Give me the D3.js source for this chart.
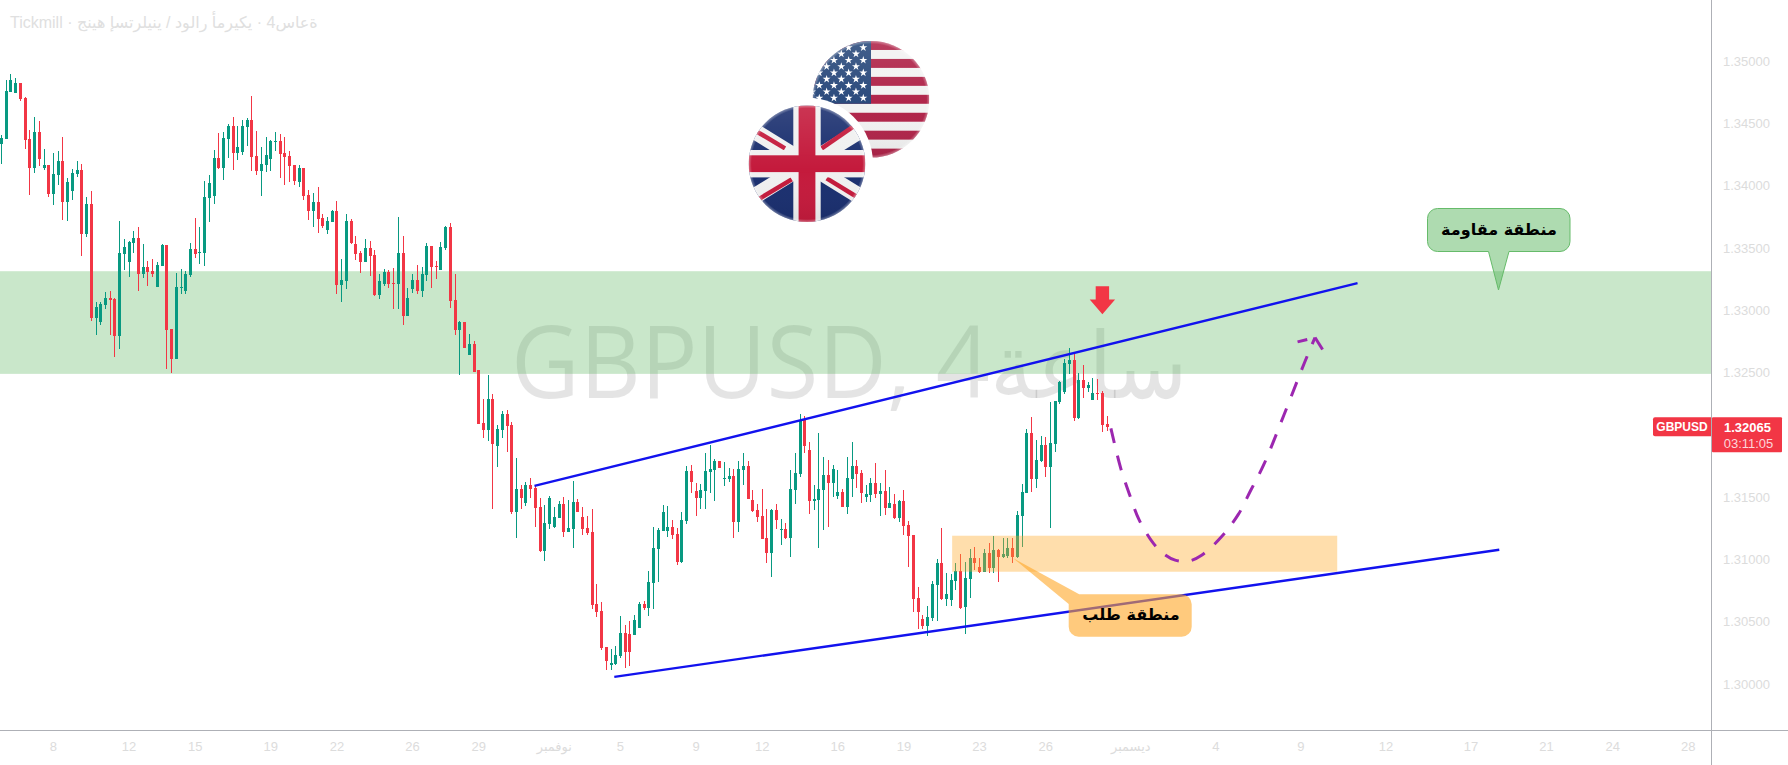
<!DOCTYPE html>
<html lang="ar">
<head>
<meta charset="utf-8">
<title>GBPUSD</title>
<script src="https://cdnjs.cloudflare.com/ajax/libs/d3/7.8.5/d3.min.js"></script>
<style>
  html, body { margin: 0; padding: 0; background: #fff; overflow: hidden; }
  svg { display: block; }
</style>
</head>
<body>
<div id="chart"></div>
<script>
// Candles, prices written in points (1 point = 0.00001)
const highs = [
  134405,134846,134899,134867,134822,134710,134445,134549,134517,134292,
  134164,134260,134276,134389,134060,134132,134196,134172,133907,133955,
  133064,133064,133145,133153,133097,133714,133570,133554,133634,133666,
  133530,133393,133410,133385,133530,133522,132848,133297,133329,133313,
  133538,133739,133666,134035,134084,134284,134421,134429,134493,134549,
  134477,134525,134541,134718,134437,134308,134389,134364,134429,134413,
  134389,134276,134164,134164,134140,133963,133939,133987,133771,133747,
  133803,133875,133410,133771,133731,133594,133474,133570,133554,133482,
  133289,133329,133321,133337,133747,133594,133177,133289,133361,133345,
  133538,133514,133393,133546,133674,133698,133289,132912,132904,132808,
  132751,132519,132286,132479,132326,132077,132190,132198,132101,131813,
  131596,131620,131652,131588,131492,131435,131508,131419,131467,131500,
  131475,131628,131484,131419,131347,131403,130801,130657,130296,130280,
  130304,130545,130472,130504,130553,130657,130665,130906,131259,131251,
  131435,131427,131315,131251,131379,131748,131756,131612,131604,131853,
  131917,131805,131788,131780,131732,131724,131788,131853,131788,131556,
  131443,131564,131403,131403,131443,131323,131291,131716,131853,132166,
  132150,131941,131596,132013,131821,131796,131756,131716,131564,131821,
  131941,131796,131716,131596,131652,131772,131612,131716,131580,131524,
  131475,131556,131307,131195,130777,130553,130625,130825,131002,131251,
  130890,130882,130970,131042,130978,131082,131098,131010,131082,131130,
  131187,131082,131171,131171,131171,131387,131604,132045,132142,131957,
  131989,131981,132262,132270,132430,132607,132695,132655,132495,132559,
  132422,132455,132446,132350,132150
];
const lows = [
  134172,134375,134750,134742,134677,134292,133923,134100,134156,134124,
  133907,133843,134003,133722,133714,133883,134068,133434,133586,132912,
  132800,132880,133008,132800,132623,132687,133321,133265,133458,133153,
  133257,133193,133265,133185,133353,132527,132495,132607,133129,133129,
  133265,133418,133369,133353,133706,133851,134132,134043,134220,134124,
  134204,134244,134316,134116,134084,133915,134108,134116,134276,134060,
  134003,134027,134003,133987,133883,133722,133666,133618,133658,133610,
  133706,133129,133064,133169,133530,133401,133297,133385,133273,133113,
  133089,133193,133177,133008,133008,132880,132952,133137,133129,133105,
  133233,133177,133249,133321,133482,133016,132800,132479,132695,132639,
  132503,132085,131973,131949,131403,131740,131973,131861,131363,131171,
  131403,131427,131492,131259,131058,130986,131243,131251,131331,131179,
  131219,131090,131379,131195,131195,130601,130537,130272,130111,130111,
  130151,130208,130127,130143,130392,130448,130593,130545,130601,130817,
  131227,131179,131163,130954,130970,131283,131532,131347,131403,131403,
  131532,131467,131732,131588,131620,131171,131219,131596,131484,131379,
  131299,131163,130970,130858,131243,131114,131163,131018,131443,131660,
  131853,131363,131395,131090,131235,131259,131500,131484,131419,131363,
  131500,131572,131451,131459,131459,131492,131347,131355,131411,131323,
  131299,131195,130938,130577,130440,130440,130384,130504,130504,130673,
  130625,130625,130753,130601,130400,130689,130914,130890,130898,130890,
  130890,130817,131010,131010,130970,131010,131098,131532,131540,131572,
  131780,131660,131251,131861,132246,132326,132487,132109,132126,132294,
  132342,132278,132278,132021,132029
];
const opens = [
  134335,134375,134750,134742,134822,134702,134373,134140,134429,134140,
  134164,133931,134084,134196,133867,133955,134092,134124,133610,133851,
  132936,132904,133040,133097,133089,132792,133450,133385,133538,133578,
  133289,133345,133313,133185,133353,133522,132848,132607,133177,133153,
  133281,133490,133458,133458,133899,133915,134220,134140,134373,134477,
  134260,134268,134469,134525,134236,134116,134164,134212,134348,134356,
  134260,134236,134164,134027,134140,133923,133795,133867,133739,133642,
  133706,133795,133201,133233,133714,133530,133458,133385,133498,133442,
  133121,133209,133305,133217,133209,133458,132952,133169,133241,133153,
  133281,133514,133353,133321,133498,133666,133080,132840,132904,132639,
  132727,132519,132093,132037,132286,131909,132037,132166,132077,131379,
  131564,131451,131596,131572,131419,131066,131283,131259,131331,131443,
  131219,131243,131459,131339,131251,131219,130641,130585,130296,130151,
  130159,130224,130408,130400,130392,130448,130641,130609,130809,131082,
  131227,131227,131259,131203,130978,131307,131708,131548,131492,131548,
  131700,131716,131788,131644,131644,131668,131299,131716,131748,131475,
  131395,131347,131171,131050,131395,131235,131243,131171,131556,131684,
  132117,131877,131467,131475,131556,131676,131612,131508,131540,131419,
  131644,131748,131692,131500,131516,131612,131524,131548,131411,131443,
  131331,131467,131275,131195,130689,130520,130464,130529,130793,130970,
  130681,130673,130825,130906,130617,130841,131010,130938,130898,131050,
  130930,131074,131018,131026,131090,131018,131347,131532,132013,131644,
  131788,131917,131740,131925,132262,132342,132567,132599,132134,132438,
  132374,132278,132334,132334,132085
];
const closes = [
  134381,134758,134846,134822,134694,134367,134140,134429,134212,134164,
  133931,134092,134196,133867,134027,134100,134124,133610,133851,132936,
  133024,133048,133097,133080,132792,133458,133506,133546,133578,133289,
  133345,133305,133289,133361,133522,132840,132607,133185,133185,133289,
  133490,133450,133466,133907,134019,134220,134140,134381,134477,134260,
  134308,134477,134525,134228,134116,134172,134244,134356,134356,134252,
  134228,134156,134035,134140,133915,133795,133867,133731,133674,133714,
  133795,133201,133241,133714,133538,133450,133385,133498,133434,133121,
  133233,133305,133209,133209,133458,132952,133097,133241,133153,133289,
  133514,133345,133345,133506,133666,133072,132840,132904,132695,132727,
  132503,132085,132037,132286,131925,132045,132166,132069,131379,131564,
  131492,131596,131564,131411,131066,131291,131492,131339,131443,131219,
  131251,131459,131379,131243,131211,130633,130577,130288,130183,130167,
  130232,130408,130256,130256,130512,130641,130609,130817,131090,131235,
  131379,131259,131195,130978,131315,131708,131620,131492,131556,131708,
  131724,131788,131732,131652,131668,131299,131724,131748,131484,131387,
  131339,131163,131050,131395,131315,131243,131171,131564,131692,132117,
  131909,131467,131484,131564,131676,131612,131724,131540,131419,131652,
  131748,131684,131532,131524,131612,131524,131548,131411,131451,131331,
  131467,131267,131187,130681,130577,130464,130537,130801,130970,130681,
  130721,130833,130906,130609,130849,131010,130970,130898,131050,130930,
  131074,131018,131042,131090,131018,131355,131540,132013,131644,131796,
  131917,131740,131933,132270,132422,132575,132599,132134,132438,132374,
  132398,132334,132326,132077,132065
];

// Axis ticks
const yTickValues = [1.30, 1.305, 1.31, 1.315, 1.325, 1.33, 1.335, 1.34, 1.345, 1.35];
const xTickIndex = [11, 27, 41, 57, 71, 87, 101, 117, 131, 147, 161, 177, 191, 207, 221, 239, 257, 275, 293, 311, 327, 341, 357];
const xTickLabels = ['8', '12', '15', '19', '22', '26', '29', 'نوفمبر', '5', '9', '12', '16', '19', '23', '26', 'ديسمبر', '4', '9', '12', '17', '21', '24', '28'];

// Drawings, given as [bar index, price]
const resistanceZone = [1.33313, 1.32489];
const demandZone = { from: 201.3, to: 282.8, top: 1.31190, bottom: 1.30901 };
const upperTrend = [[112.9, 1.31590], [287.1, 1.33217]];
const lowerTrend = [[129.8, 1.30057], [317.1, 1.31077]];
const forecastPath = [
  [234.9, 1.32051], [237.0, 1.31729], [238.9, 1.31515], [240.9, 1.31315], [243.9, 1.31128],
  [246.0, 1.31047], [248.5, 1.30994], [251.3, 1.30986], [254.1, 1.31034], [258.3, 1.31181],
  [261.9, 1.31363], [264.5, 1.31555], [267.2, 1.31756], [271.5, 1.32157], [275.8, 1.32572],
  [278.1, 1.32781]
];
const forecastHeadLeft = [[278.1, 1.32781], [274.4, 1.32746]];
const forecastHeadRight = [[278.1, 1.32781], [279.7, 1.32685]];
const arrowTip = [233.1, 1.32968];

const lastPrice = 1.32065;
const lastPriceText = '1.32065';
const countdownText = '03:11:05';
const symbolText = 'GBPUSD';
const titleText = 'Tickmill · جنيه إسترليني / دولار أمريكي · 4ساعة';
const watermarkLatin = 'GBPUSD, 4';
const watermarkArabic = 'ساعة';
const resistanceLabel = 'منطقة مقاومة';
const demandLabel = 'منطقة طلب';

const width = 1788, height = 765;
const plotRight = 1711, plotBottom = 730;
const upColor = '#089981', downColor = '#f23645';
const tickColor = '#dcdcdc', axisColor = '#aeb0b6';

const svg = d3.select('#chart').append('svg')
  .attr('width', width)
  .attr('height', height)
  .attr('viewBox', `0 0 ${width} ${height}`);

const x = d3.scaleLinear().domain([0, 100]).range([1, 473.5]);
const y = d3.scaleLinear().domain([1.30, 1.35]).range([684, 61]);
const line = d3.line().x(d => x(d[0])).y(d => y(d[1]));

const candles = highs.map((h, i) => ({
  i: i,
  high: h / 1e5,
  low: lows[i] / 1e5,
  open: opens[i] / 1e5,
  close: closes[i] / 1e5
}));

// Watermark and title
const mark = svg.append('text')
  .attr('transform', 'translate(511,398) scale(0.945,1)')
  .attr('font-family', '"Open Sans", "DejaVu Sans", sans-serif')
  .attr('font-size', 100)
  .attr('fill', 'rgba(0,0,0,0.105)');
mark.append('tspan').text(watermarkLatin);
mark.append('tspan').attr('font-size', 92).text(watermarkArabic);

svg.append('text')
  .attr('x', 10).attr('y', 28)
  .attr('font-family', '"Liberation Sans", "DejaVu Sans", sans-serif')
  .attr('font-size', 16)
  .attr('fill', '#e0e0e0')
  .style('direction', 'ltr')
  .style('unicode-bidi', 'bidi-override')
  .text(titleText);

// Resistance zone sits under the candles
svg.append('rect')
  .attr('x', 0).attr('width', plotRight)
  .attr('y', y(resistanceZone[0]))
  .attr('height', y(resistanceZone[1]) - y(resistanceZone[0]))
  .attr('fill', '#4caf50').attr('fill-opacity', 0.3);

// Candles
const gCandles = svg.append('g').attr('shape-rendering', 'crispEdges');
const candle = gCandles.selectAll('g').data(candles).enter().append('g')
  .attr('fill', d => d.close >= d.open ? upColor : downColor);
candle.append('rect')
  .attr('x', d => Math.round(x(d.i)))
  .attr('width', 1)
  .attr('y', d => y(d.high))
  .attr('height', d => y(d.low) - y(d.high));
candle.append('rect')
  .attr('x', d => Math.round(x(d.i)) - 1)
  .attr('width', 3)
  .attr('y', d => y(Math.max(d.open, d.close)))
  .attr('height', d => Math.max(1, Math.abs(y(d.open) - y(d.close))));

// Demand zone goes over the candles
svg.append('rect')
  .attr('x', x(demandZone.from))
  .attr('width', x(demandZone.to) - x(demandZone.from))
  .attr('y', y(demandZone.top))
  .attr('height', y(demandZone.bottom) - y(demandZone.top))
  .attr('fill', '#ffa726').attr('fill-opacity', 0.38);

// Trend lines
[upperTrend, lowerTrend].forEach(points => {
  svg.append('path')
    .attr('d', line(points))
    .attr('fill', 'none')
    .attr('stroke', '#1212ee')
    .attr('stroke-width', 2.4);
});

// Forecast, dashed purple curve with an open arrow head
const curve = d3.line().x(d => x(d[0])).y(d => y(d[1])).curve(d3.curveCatmullRom);
svg.append('path')
  .attr('d', curve(forecastPath))
  .attr('fill', 'none')
  .attr('stroke', '#9c27b0')
  .attr('stroke-width', 3)
  .attr('stroke-dasharray', '15 13');
[forecastHeadLeft, forecastHeadRight].forEach(points => {
  svg.append('path')
    .attr('d', line(points))
    .attr('fill', 'none')
    .attr('stroke', '#9c27b0')
    .attr('stroke-width', 3)
    .attr('stroke-dasharray', points === forecastHeadLeft ? '0 8 10 10' : null);
});

// Red down arrow above the top
const ax = x(arrowTip[0]), ay = y(arrowTip[1]);
svg.append('path')
  .attr('d', `M${ax - 6.7},${ay - 28}H${ax + 6.7}V${ay - 14.7}H${ax + 12.7}L${ax},${ay}L${ax - 12.7},${ay - 14.7}H${ax - 6.7}Z`)
  .attr('fill', downColor);

// Callouts
function roundedCallout(left, top, right, bottom, r, tail) {
  const p = d3.path();
  p.moveTo(left + r, top);
  p.lineTo(right - r, top);
  p.arcTo(right, top, right, top + r, r);
  p.lineTo(right, bottom - r);
  p.arcTo(right, bottom, right - r, bottom, r);
  if (tail.side === 'bottom') {
    p.lineTo(tail.b[0], tail.b[1]);
    p.lineTo(tail.tip[0], tail.tip[1]);
    p.lineTo(tail.a[0], tail.a[1]);
  }
  p.lineTo(left + r, bottom);
  p.arcTo(left, bottom, left, bottom - r, r);
  if (tail.side === 'left') {
    p.lineTo(left, tail.a[1]);
    p.lineTo(tail.tip[0], tail.tip[1]);
    p.lineTo(left + r + 0.5, top);
  } else {
    p.lineTo(left, top + r);
    p.arcTo(left, top, left + r, top, r);
  }
  p.closePath();
  return p.toString();
}

svg.append('path')
  .attr('d', roundedCallout(1427.5, 208.5, 1570, 251.5, 10,
    { side: 'bottom', a: [1488.5, 251.5], tip: [1498.5, 290], b: [1509, 251.5] }))
  .attr('fill', '#4caf50').attr('fill-opacity', 0.45)
  .attr('stroke', '#66bb6a').attr('stroke-width', 1);
svg.append('text')
  .attr('x', 1499).attr('y', 235)
  .attr('text-anchor', 'middle')
  .attr('font-family', '"DejaVu Sans", sans-serif')
  .attr('font-size', 16)
  .attr('font-weight', 700)
  .attr('fill', '#000')
  .text(resistanceLabel);

svg.append('path')
  .attr('d', roundedCallout(1068.7, 594.3, 1191.7, 636.7, 10,
    { side: 'left', a: [1068.7, 604], tip: [1013.3, 558.3] }))
  .attr('fill', '#ffa726').attr('fill-opacity', 0.6);
svg.append('text')
  .attr('x', 1131).attr('y', 620)
  .attr('text-anchor', 'middle')
  .attr('font-family', '"DejaVu Sans", sans-serif')
  .attr('font-size', 16)
  .attr('font-weight', 700)
  .attr('fill', '#000')
  .text(demandLabel);

// Flags
const defs = svg.append('defs');
const flagR = 58.3;
const gloss = defs.append('linearGradient').attr('id', 'gloss')
  .attr('x1', 0).attr('y1', 0).attr('x2', 0).attr('y2', 1);
gloss.append('stop').attr('offset', '0%').attr('stop-color', '#fff').attr('stop-opacity', 0.12);
gloss.append('stop').attr('offset', '55%').attr('stop-color', '#fff').attr('stop-opacity', 0);
gloss.append('stop').attr('offset', '100%').attr('stop-color', '#000').attr('stop-opacity', 0.06);
const rim = defs.append('radialGradient').attr('id', 'rim');
rim.append('stop').attr('offset', '95%').attr('stop-color', '#fff').attr('stop-opacity', 0);
rim.append('stop').attr('offset', '100%').attr('stop-color', '#fff').attr('stop-opacity', 0.35);
defs.append('clipPath').attr('id', 'flagClip').append('circle').attr('r', flagR);

const us = svg.append('g').attr('transform', 'translate(871,99.3)');
const usInner = us.append('g').attr('clip-path', 'url(#flagClip)');
const stripe = d3.scaleBand().domain(d3.range(13)).range([-flagR, flagR]);
usInner.selectAll('rect.stripe').data(d3.range(13)).enter().append('rect')
  .attr('class', 'stripe')
  .attr('x', -flagR).attr('width', 2 * flagR)
  .attr('y', d => stripe(d)).attr('height', stripe.bandwidth() + 0.3)
  .attr('fill', d => d % 2 ? '#f2f2f2' : '#b0254a');
usInner.append('rect')
  .attr('x', -flagR).attr('y', -flagR)
  .attr('width', flagR)
  .attr('height', stripe(7) + flagR)
  .attr('fill', '#2a4a7c');
const star = d3.symbol(d3.symbolStar, 20);
d3.range(9).forEach(row => {
  d3.range(5).forEach(col => {
    usInner.append('path')
      .attr('d', star())
      .attr('transform', `translate(${-7.7 - col * 14.67 - (row % 2 ? 7.33 : 0)},${-51.7 + row * 6.3})`)
      .attr('fill', '#fff');
  });
});
us.append('circle').attr('r', flagR).attr('fill', 'url(#gloss)');
us.append('circle').attr('r', flagR).attr('fill', 'url(#rim)');

const uk = svg.append('g').attr('transform', 'translate(807,163.7)');
uk.append('circle').attr('r', 66).attr('fill', '#fff');
const ukInner = uk.append('g').attr('clip-path', 'url(#flagClip)');
ukInner.append('rect')
  .attr('x', -flagR).attr('y', -flagR)
  .attr('width', 2 * flagR).attr('height', 2 * flagR)
  .attr('fill', '#1a2f6f');
[[-70, -43.4, 70, 43.4], [-70, 43.4, 70, -43.4]].forEach(d => {
  ukInner.append('line')
    .attr('x1', d[0]).attr('y1', d[1]).attr('x2', d[2]).attr('y2', d[3])
    .attr('stroke', '#f0f0f0').attr('stroke-width', 16);
});
const ukRedBars = [
  [-56, -35.5, -22, -15.3], [14.7, -15.3, 52, -41],
  [-52, 37.7, -15.3, 15.7], [19.7, 14.7, 55, 36.3]
];
ukRedBars.forEach(d => {
  ukInner.append('line')
    .attr('x1', d[0]).attr('y1', d[1]).attr('x2', d[2]).attr('y2', d[3])
    .attr('stroke', '#c41a3c').attr('stroke-width', 4.5);
});
ukInner.append('rect').attr('x', -13.7).attr('y', -flagR).attr('width', 27.4).attr('height', 2 * flagR).attr('fill', '#f0f0f0');
ukInner.append('rect').attr('x', -flagR).attr('y', -13.7).attr('width', 2 * flagR).attr('height', 27.4).attr('fill', '#f0f0f0');
ukInner.append('rect').attr('x', -8.4).attr('y', -flagR).attr('width', 16.8).attr('height', 2 * flagR).attr('fill', '#c41a3c');
ukInner.append('rect').attr('x', -flagR).attr('y', -8.4).attr('width', 2 * flagR).attr('height', 16.8).attr('fill', '#c41a3c');
uk.append('circle').attr('r', flagR).attr('fill', 'url(#gloss)');
uk.append('circle').attr('r', flagR).attr('fill', 'url(#rim)');

// Axes
const yAxis = d3.axisRight(y)
  .tickValues(yTickValues)
  .tickSize(0)
  .tickPadding(12)
  .tickFormat(d3.format('.5f'));
const gy = svg.append('g').attr('transform', `translate(${plotRight},0)`).call(yAxis);
gy.select('.domain').remove();
gy.selectAll('text')
  .attr('font-family', '"Liberation Sans", sans-serif')
  .attr('font-size', 13)
  .attr('fill', tickColor);

const xAxis = d3.axisBottom(x)
  .tickValues(xTickIndex)
  .tickSize(0)
  .tickPadding(12)
  .tickFormat((d, i) => xTickLabels[i]);
const gx = svg.append('g').attr('transform', `translate(0,${plotBottom})`).call(xAxis);
gx.select('.domain').remove();
gx.selectAll('text')
  .attr('font-family', '"Liberation Sans", "DejaVu Sans", sans-serif')
  .attr('font-size', 13)
  .attr('fill', tickColor);

svg.append('line')
  .attr('x1', plotRight + 0.5).attr('x2', plotRight + 0.5)
  .attr('y1', 0).attr('y2', height)
  .attr('stroke', axisColor);
svg.append('line')
  .attr('x1', 0).attr('x2', width)
  .attr('y1', plotBottom + 0.5).attr('y2', plotBottom + 0.5)
  .attr('stroke', axisColor);

// Last price tags
const py = y(lastPrice);
svg.append('path')
  .attr('d', `M${plotRight},${py - 9.5}H1655a2,2 0 0 0 -2,2V${py + 7.5}a2,2 0 0 0 2,2H${plotRight}Z`)
  .attr('fill', downColor);
svg.append('text')
  .attr('x', 1682).attr('y', py + 4.5)
  .attr('text-anchor', 'middle')
  .attr('font-family', '"Liberation Sans", sans-serif')
  .attr('font-size', 12).attr('font-weight', 700)
  .attr('fill', '#fff')
  .text(symbolText);
svg.append('rect')
  .attr('x', plotRight + 1).attr('y', py - 9.5)
  .attr('width', 70).attr('height', 35)
  .attr('rx', 1)
  .attr('fill', downColor);
svg.append('text')
  .attr('x', 1747.5).attr('y', py + 5)
  .attr('text-anchor', 'middle')
  .attr('font-family', '"Liberation Sans", sans-serif')
  .attr('font-size', 13).attr('font-weight', 700)
  .attr('fill', '#fff')
  .text(lastPriceText);
svg.append('text')
  .attr('x', 1748.5).attr('y', py + 21)
  .attr('text-anchor', 'middle')
  .attr('font-family', '"Liberation Sans", sans-serif')
  .attr('font-size', 13)
  .attr('fill', '#fcd6da')
  .text(countdownText);
</script>
</body>
</html>
